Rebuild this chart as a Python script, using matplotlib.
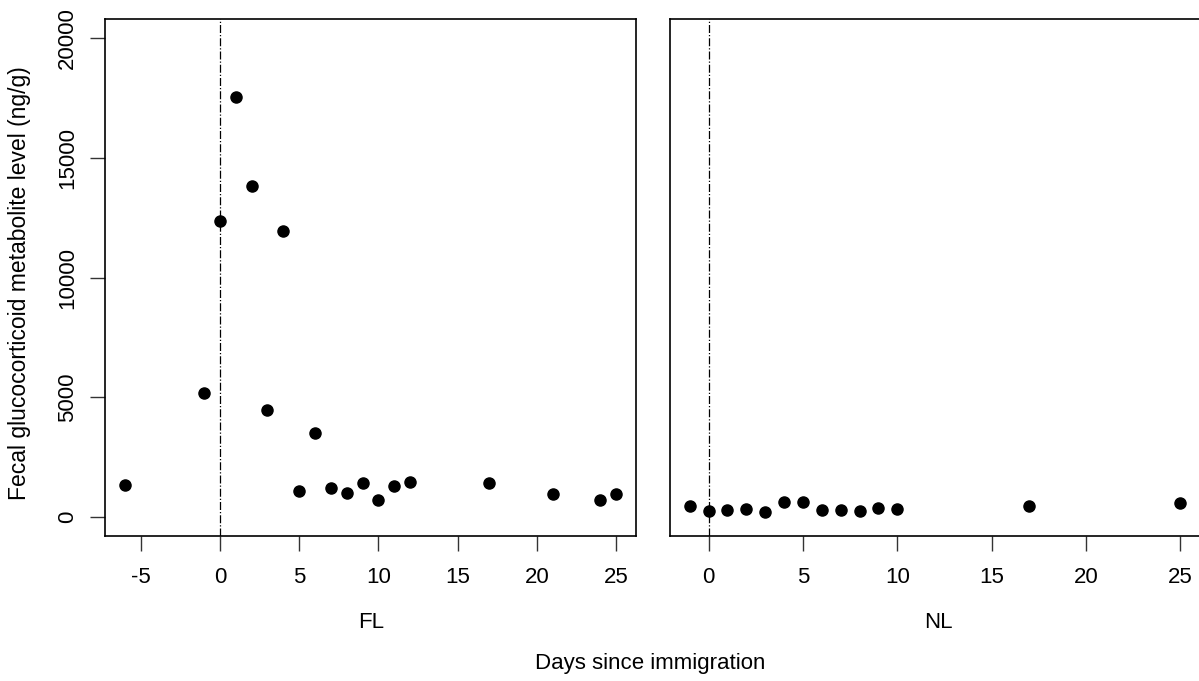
import matplotlib
matplotlib.use('Agg')
import matplotlib.pyplot as plt

plt.rcParams['font.family'] = ['Liberation Sans', 'DejaVu Sans']
plt.rcParams['axes.unicode_minus'] = False

# FL group
fl_days = [-6, -1, 0, 1, 2, 3, 4, 5, 6, 7, 8, 9, 10, 11, 12, 17, 21, 24, 25]
fl_values = [1320, 5190, 12380, 17560, 13850, 4450, 11970, 1085, 3490, 1200,
             1000, 1435, 710, 1310, 1450, 1405, 950, 700, 950]

# NL group
nl_days = [-1, 0, 1, 2, 3, 4, 5, 6, 7, 8, 9, 10, 17, 25]
nl_values = [445, 250, 280, 320, 200, 640, 640, 280, 290, 225, 350, 310, 435, 570]

y_ticks = [0, 5000, 10000, 15000, 20000]
fl_xticks = [-5, 0, 5, 10, 15, 20, 25]
nl_xticks = [0, 5, 10, 15, 20, 25]

W, H = 1199, 681
fs = 16
fig = plt.figure(figsize=(W / 100, H / 100), dpi=100)
ax1 = fig.add_axes([105 / W, 1 - 536 / H, 531 / W, 516.7 / H])
ax2 = fig.add_axes([670 / W, 1 - 536 / H, 530 / W, 516.7 / H])

for ax, days, vals, ticks, name, cx in [(ax1, fl_days, fl_values, fl_xticks, 'FL', 371),
                                        (ax2, nl_days, nl_values, nl_xticks, 'NL', 938)]:
    ax.plot(days, vals, 'o', color='black', markersize=8)
    ax.axvline(0, color='black', linestyle='-.', linewidth=0.9)
    lo, hi = min(days), max(days)
    pad = (hi - lo) * 0.04
    ax.set_xlim(lo - pad, hi + pad)
    ax.set_ylim(-800, 20800)
    ax.set_xticks(ticks)
    ax.tick_params(axis='x', length=10.8, width=1, pad=11.5, labelsize=fs,
                   color='#333333')
    for s in ax.spines.values():
        s.set_linewidth(1.2)
        s.set_color('black')
    fig.text(cx / W, 1 - 622 / H, name, fontsize=fs, ha='center', va='center')

ax1.set_yticks(y_ticks)
ax1.set_yticklabels([str(v) for v in y_ticks], rotation=90, va='center')
ax1.tick_params(axis='y', length=10.8, width=1, pad=8.5, labelsize=fs,
                color='#333333')
ax2.set_yticks([])

fig.text(20 / W, 1 - 283 / H, 'Fecal glucocorticoid metabolite level (ng/g)',
         fontsize=fs + 0.5, rotation=90, ha='center', va='center')
fig.text(650 / W, 1 - 664 / H, 'Days since immigration', fontsize=fs,
         ha='center', va='center')

fig.savefig('out.png', dpi=100)
